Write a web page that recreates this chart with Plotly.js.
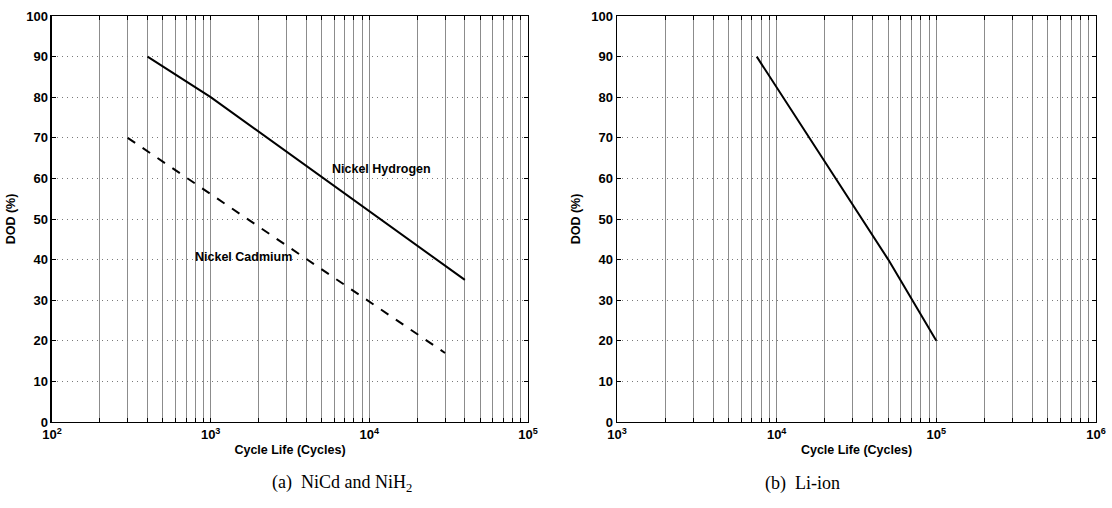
<!DOCTYPE html>
<html>
<head>
<meta charset="utf-8">
<script src="https://cdn.plot.ly/plotly-3.0.1.min.js"></script>
<style>html,body{margin:0;padding:0;background:#fff;}#chart{width:1112px;height:508px;}</style>
</head>
<body>
<div id="chart"></div>
<script>
// ---- data ----
const nihCycles = [400, 1000, 40000];
const nihDod = [90, 80, 35];
const nicdCycles = [300, 30000];
const nicdDod = [70, 17];
const liionCycles = [7500, 50000, 100000];
const liionDod = [90, 40, 20];

const leftDecades = [2, 3, 4, 5];
const rightDecades = [3, 4, 5, 6];
const yTicks = [0, 10, 20, 30, 40, 50, 60, 70, 80, 90, 100];

const labelNiH = "Nickel Hydrogen";
const labelNiCd = "Nickel Cadmium";
const xTitle = "Cycle Life (Cycles)";
const yTitle = "DOD (%)";
const captionA = "(a)  NiCd and NiH<sub>2</sub>";
const captionB = "(b)  Li-ion";

function logTicks(decades) {
  const vals = [], text = [];
  for (let i = 0; i < decades.length; i++) {
    const p = decades[i];
    vals.push(Math.pow(10, p));
    text.push("10<sup>" + p + "</sup>");
    if (i < decades.length - 1) {
      for (let m = 2; m <= 9; m++) { vals.push(m * Math.pow(10, p)); text.push(""); }
    }
  }
  return {vals, text};
}
const lt = logTicks(leftDecades), rt = logTicks(rightDecades);

const sans = "Liberation Sans, Arial, sans-serif";
const tickFont = {family: sans, size: 13, color: "#000", weight: "bold"};
const titleFont = {family: sans, size: 12.5, color: "#000", weight: "bold"};
const capFont = {family: "Liberation Serif, serif", size: 18, color: "#000"};

function xax(domain, t, range) {
  return {
    type: "log", domain: domain, range: range,
    tickvals: t.vals, ticktext: t.text, tickfont: tickFont,
    ticks: "inside", ticklen: 4, tickcolor: "#000", mirror: "allticks",
    showline: true, linecolor: "#000", linewidth: 1.5,
    showgrid: true, gridcolor: "#8c8c8c", gridwidth: 1,
    zeroline: false, tickangle: 0,
    title: {text: xTitle, font: titleFont, standoff: 4}
  };
}
function yax(anchor) {
  return {
    anchor: anchor, domain: [0.1693, 0.9685], range: [0, 100],
    tickvals: yTicks, tickfont: tickFont,
    ticks: "inside", ticklen: 4, tickcolor: "#000", mirror: "allticks",
    showline: true, linecolor: "#000", linewidth: 1.5,
    showgrid: true, gridcolor: "#7a7a7a", gridwidth: 1, griddash: "1px,4px",
    zeroline: false,
    title: {text: yTitle, font: titleFont, standoff: 8}
  };
}

const traces = [
  {x: nihCycles, y: nihDod, xaxis: "x", yaxis: "y", mode: "lines",
   line: {color: "#000", width: 2}, name: labelNiH},
  {x: nicdCycles, y: nicdDod, xaxis: "x", yaxis: "y", mode: "lines",
   line: {color: "#000", width: 2, dash: "dash"}, name: labelNiCd},
  {x: liionCycles, y: liionDod, xaxis: "x2", yaxis: "y2", mode: "lines",
   line: {color: "#000", width: 2}, name: "Li-ion"}
];

const layout = {
  width: 1112, height: 508,
  margin: {l: 0, r: 0, t: 0, b: 0},
  paper_bgcolor: "#fff", plot_bgcolor: "#fff",
  showlegend: false,
  xaxis: xax([0.04676, 0.47482], lt, [2, 5]),
  yaxis: yax("x"),
  xaxis2: Object.assign(xax([0.55486, 0.98561], rt, [3, 6]), {anchor: "y2"}),
  yaxis2: yax("x2"),
  annotations: [
    {xref: "x", yref: "y", x: Math.log10(12000), y: 62.3, text: labelNiH,
     showarrow: false, font: titleFont},
    {xref: "x", yref: "y", x: 3.207, y: 40.7, text: labelNiCd,
     showarrow: false, font: titleFont},
    {xref: "paper", yref: "paper", x: 0.243, y: 0.049, yanchor: "middle", text: captionA,
     showarrow: false, font: capFont},
    {xref: "paper", yref: "paper", x: 0.757, y: 0.049, yanchor: "middle", text: captionB,
     showarrow: false, font: capFont}
  ]
};
layout.xaxis.anchor = "y";

Plotly.newPlot("chart", traces, layout, {staticPlot: true, displayModeBar: false});
</script>
</body>
</html>
